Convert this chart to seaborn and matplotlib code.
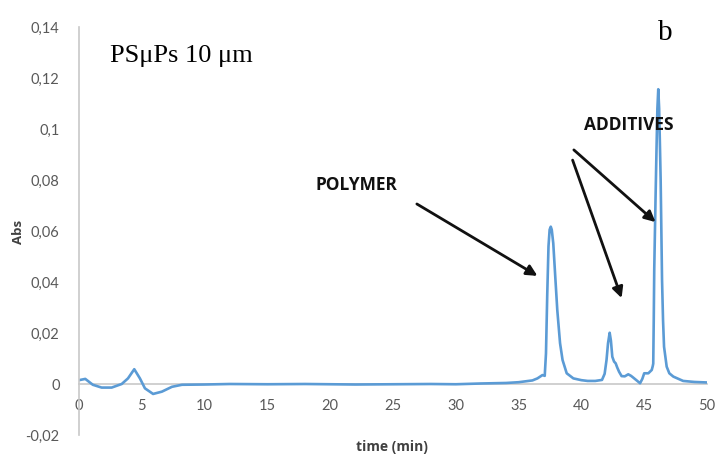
import matplotlib
matplotlib.use("Agg")
import matplotlib.pyplot as plt
import seaborn as sns
import pandas as pd

# ---- data ----
time_min = [0, 0.5, 1.1, 1.8, 2.6, 3.4, 3.9, 4.4, 4.85, 5.25, 5.9, 6.6, 7.4, 8.2,
            10, 12, 15, 18, 20, 22, 25, 28, 30, 32, 34, 35, 36.1, 36.5, 36.9,
            37.08, 37.18, 37.28, 37.38, 37.47, 37.56, 37.64, 37.76, 37.92, 38.08, 38.3,
            38.5, 38.83, 39.36, 40.0, 40.5, 41.1, 41.64, 41.85, 42.0, 42.12, 42.25,
            42.35, 42.46, 42.6, 42.73, 42.85, 43.0, 43.2, 43.45, 43.73, 43.95, 44.13,
            44.45, 44.67, 44.85, 45.0, 45.33, 45.6, 45.68, 45.72, 45.76, 45.8, 45.9,
            45.98, 46.05, 46.12, 46.19, 46.26, 46.31, 46.42, 46.5, 46.58, 46.79,
            47.0, 47.32, 48.1, 49.0, 50.0]
absorbance = [0.0015, 0.0020, -0.0003, -0.0014, -0.0014, 0.0000, 0.0022, 0.0058, 0.0022,
              -0.0017, -0.0039, -0.0030, -0.0011, -0.0003,
              -0.0002, 0.0000, -0.0001, 0.0000, -0.0001, -0.0002, -0.0001, 0.0000,
              -0.0001, 0.0002, 0.0004, 0.0007, 0.0014, 0.0022, 0.0035,
              0.0032, 0.0120, 0.0350, 0.0540, 0.0605, 0.0617, 0.0605, 0.0552, 0.0420,
              0.0290, 0.0160, 0.0094, 0.0042, 0.0022, 0.0015, 0.0012, 0.0012, 0.0016,
              0.0040, 0.0094, 0.0160, 0.0201, 0.0170, 0.0107, 0.0088, 0.0081, 0.0065,
              0.0048, 0.0031, 0.0030, 0.0038, 0.0032, 0.0025, 0.0012, 0.0003, 0.0020,
              0.0042, 0.0042, 0.0055, 0.0070, 0.0080, 0.0250, 0.0450, 0.0720, 0.0920,
              0.1080, 0.1156, 0.1080, 0.0920, 0.0800, 0.0408, 0.0250, 0.0146, 0.0068,
              0.0042, 0.0029, 0.0012, 0.0008, 0.0006]

x_ticks = [0, 5, 10, 15, 20, 25, 30, 35, 40, 45, 50]
y_ticks = [-0.02, 0, 0.02, 0.04, 0.06, 0.08, 0.1, 0.12, 0.14]
y_tick_labels = ["-0,02", "0", "0,02", "0,04", "0,06", "0,08", "0,1", "0,12", "0,14"]

df = pd.DataFrame({"time": time_min, "abs": absorbance})

sns.set_style("white")
plt.rcParams["font.family"] = ["Lato", "DejaVu Sans"]

W, H = 718, 458
fig = plt.figure(figsize=(W / 100, H / 100), dpi=100)
ax = fig.add_axes([79 / W, 1 - 435 / H, 628 / W, 408 / H])

sns.lineplot(data=df, x="time", y="abs", ax=ax, color="#5B9BD5",
             linewidth=1.9, sort=False, estimator=None)

ax.set_xlim(0, 50)
ax.set_ylim(-0.02, 0.14)
ax.set_xticks(x_ticks)
ax.set_xticklabels([str(v) for v in x_ticks])
ax.set_yticks(y_ticks)
ax.set_yticklabels(y_tick_labels)
ax.set_xlabel("")
ax.set_ylabel("")

for side in ["top", "right"]:
    ax.spines[side].set_visible(False)
ax.spines["bottom"].set_position(("data", 0))
ax.spines["bottom"].set_color("#C8C8C8")
ax.spines["left"].set_color("#C8C8C8")
ax.spines["bottom"].set_linewidth(1.2)
ax.spines["left"].set_linewidth(1.2)
ax.spines["bottom"].set_zorder(0)

ax.tick_params(axis="x", length=0, pad=11, labelsize=10.5, labelcolor="#595959")
ax.tick_params(axis="y", length=0, pad=14, labelsize=10.5, labelcolor="#595959")

# axis titles
fig.text(392 / W, 1 - 447 / H, "time (min)", ha="center", va="center",
         fontsize=10, fontweight="bold", color="#404040",
         family=["Open Sans", "DejaVu Sans"])
fig.text(18 / W, 1 - 232 / H, "Abs", ha="center", va="center", rotation=90,
         fontsize=9.5, fontweight="bold", color="#404040",
         family=["Open Sans", "DejaVu Sans"])

# in-plot labels
fig.text(110 / W, 1 - 62 / H, "PSμPs 10 μm", ha="left", va="baseline",
         fontsize=19, family=["Liberation Serif", "DejaVu Serif"], color="black")
fig.text(665 / W, 1 - 40 / H, "b", ha="center", va="baseline",
         fontsize=21, family=["Liberation Serif", "DejaVu Serif"], color="black")

ax.text(22.1, 0.078, "POLYMER", ha="center", va="center", fontsize=12.5,
        fontweight="bold", color="#111111", family=["Open Sans", "DejaVu Sans"])
ax.text(43.8, 0.1015, "ADDITIVES", ha="center", va="center", fontsize=12.5,
        fontweight="bold", color="#111111", family=["Open Sans", "DejaVu Sans"])

arrow_kw = dict(arrowstyle="-|>", lw=2, color="#111111", mutation_scale=16,
                shrinkA=0, shrinkB=0)
ax.annotate("", xy=(36.5, 0.0424), xytext=(26.9, 0.0706), arrowprops=arrow_kw)
ax.annotate("", xy=(45.9, 0.0635), xytext=(39.4, 0.0918), arrowprops=arrow_kw)
ax.annotate("", xy=(43.2, 0.0337), xytext=(39.3, 0.0878), arrowprops=arrow_kw)

fig.savefig("out.png", dpi=100)
